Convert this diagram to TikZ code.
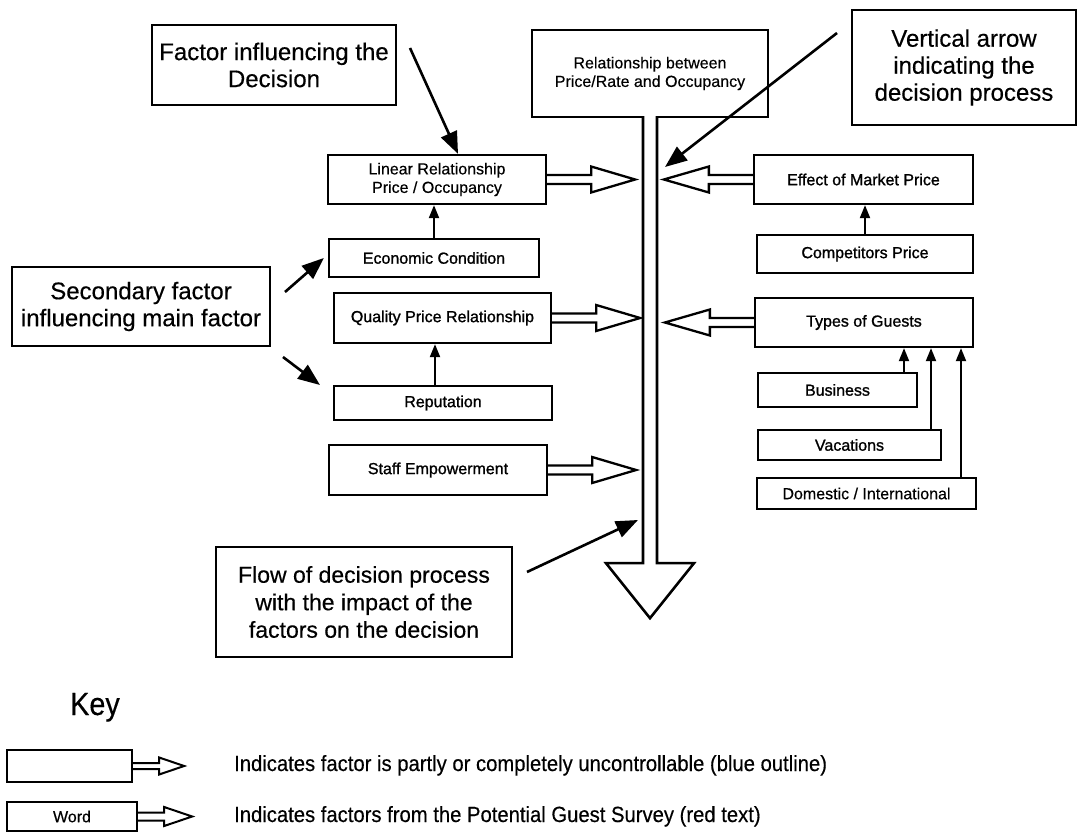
\documentclass[tikz,border=0pt]{standalone}
\usepackage{fontspec}
\setmainfont{Liberation Sans}
\newfontfamily\plainsans[FakeBold=0.4]{Liberation Sans}
\newfontfamily\heavysans[FakeBold=1.2]{Liberation Sans}
\usetikzlibrary{arrows.meta,calc}

% hollow block arrows leaving a box side: right-pointing and left-pointing
\newcommand\flowright[1]{%
  \draw[hollow] ($(#1)+(0,-4.5)$) -- ++(44,0) -- ++(0,-8.5) -- ++(44,13)
    -- ++(-44,13) -- ++(0,-8.5) -- ++(-44,0);}
\newcommand\flowleft[1]{%
  \draw[hollow] ($(#1)+(0,-4.5)$) -- ++(-44,0) -- ++(0,-8.5) -- ++(-45,13)
    -- ++(45,13) -- ++(0,-8.5) -- ++(44,0);}

\begin{document}
\begin{tikzpicture}[x=1pt,y=-1pt,
  box/.style={draw,line width=2.3pt,inner sep=0pt,align=center,
    font=\plainsans\fontsize{16}{18.5}\selectfont},
  dark/.style={font=\heavysans\fontsize{16}{18.5}\selectfont},
  callout/.style={box,font=\plainsans\fontsize{24}{27}\selectfont},
  hollow/.style={draw,line width=2.3pt,line join=miter},
  pointer/.style={line width=2.6pt,-{Triangle[length=22pt,width=17pt]}},
  feed/.style={line width=2pt,-{Triangle[length=13pt,width=10pt]}},
  keytext/.style={anchor=base west,inner sep=0pt,font=\plainsans\fontsize{22}{26}\selectfont},
]
\useasboundingbox (0,0) rectangle (1079,834);

% central decision box
\node[box,minimum width=236pt,minimum height=87pt] (mainbox) at (650,73.5)
  {Relationship between\\Price/Rate and Occupancy};

% factors on the left
\node[box,minimum width=218pt,minimum height=49pt] (lin) at (437,179.5)
  {Linear Relationship\\Price / Occupancy};
\node[box,dark,minimum width=210pt,minimum height=38pt] (eco) at (434,258)
  {Economic Condition};
\node[box,dark,minimum width=217pt,minimum height=50pt] (qual) at (442.5,318)
  {Quality Price Relationship};
\node[box,dark,minimum width=218pt,minimum height=34pt] (rep) at (443,403)
  {Reputation};
\node[box,dark,minimum width=218pt,minimum height=50pt] (staff) at (438,470)
  {Staff Empowerment};

% factors on the right
\node[box,dark,minimum width=219pt,minimum height=49pt] (eff) at (863.5,179.5)
  {Effect of Market Price};
\node[box,dark,minimum width=216pt,minimum height=38pt] (comp) at (865,254)
  {Competitors Price};
\node[box,dark,minimum width=218pt,minimum height=49pt] (types) at (864,322.5)
  {Types of Guests};
\node[box,dark,minimum width=159pt,minimum height=34pt] (bus) at (837.5,390)
  {Business};
\node[box,dark,minimum width=183pt,minimum height=30pt] (vac) at (849.5,445)
  {Vacations};
\node[box,minimum width=219pt,minimum height=31pt] (dom) at (866.5,493.5)
  {Domestic / International};

% explanatory callouts
\node[callout,minimum width=244pt,minimum height=80pt] (factor) at (274,65)
  {Factor influencing the\\Decision};
\node[callout,minimum width=224pt,minimum height=115pt] (vert) at (964,67.5)
  {Vertical arrow\\indicating the\\decision process};
\node[callout,minimum width=258pt,minimum height=79pt] (second) at (141,306.5)
  {Secondary factor\\influencing main factor};
\node[callout,minimum width=296pt,minimum height=110pt,
  font=\plainsans\fontsize{23}{27.5}\selectfont] (flow) at (364,602)
  {Flow of decision process\\with the impact of the\\factors on the decision};

% the vertical decision arrow hanging from the central box
\path[fill=white,draw,line width=2.6pt,line join=miter]
  ($(mainbox.south)+(-7,-2)$) -- ++(0,447) -- ++(-37,0) -- ++(44,55)
  -- ++(44,-55) -- ++(-37,0) -- ++(0,-447);

% hollow arrows into the decision flow
\flowright{lin.east}
\flowright{qual.east}
\flowright{staff.east}
\flowleft{eff.west}
\flowleft{types.west}

% secondary factors feeding main factors
\draw[feed] (eco.north) -- (eco.north |- lin.south);
\draw[feed] ([xshift=-8pt]rep.north) -- ([xshift=-8pt]rep.north |- qual.south);
\draw[feed] (comp.north) -- (comp.north |- eff.south);
\draw[feed] ([xshift=66.5pt]bus.north) -- ([xshift=66.5pt]bus.north |- types.south);
\draw[feed] ([xshift=81.5pt]vac.north) -- ([xshift=81.5pt]vac.north |- types.south);
\draw[feed] ([xshift=94.5pt]dom.north) -- ([xshift=94.5pt]dom.north |- types.south);

% pointers from the callouts
\coordinate (factortail) at (410,48);
\coordinate (verttail) at (837,33);
\coordinate (verttip) at (665,167);
\coordinate (secondtailA) at (285,292);
\coordinate (secondtailB) at (283,357);
\coordinate (secondtipB) at (320,385);
\coordinate (flowtail) at (527,572);
\coordinate (flowtip) at (638,520);
\draw[pointer] (factortail) -- ([xshift=21pt]lin.north);
\draw[pointer] (verttail) -- (verttip);
\draw[pointer] (secondtailA) -- ([xshift=-4pt]eco.west);
\draw[pointer] (secondtailB) -- (secondtipB);
\draw[pointer] (flowtail) -- (flowtip);

% key
\node[anchor=base,inner sep=0pt,font=\plainsans\fontsize{32}{36}\selectfont]
  (keylabel) at (95,715) {\scalebox{0.9}[1]{Key}};
\node[box,minimum width=125pt,minimum height=32pt] (keyA) at (69.5,766) {};
\node[box,minimum width=130pt,minimum height=29pt] (keyB) at (72,816.5) {Word};
\draw[line width=2pt,line join=miter] ($(keyA.east)+(0,-3)$) -- ++(26,0) -- ++(0,-5.5)
  -- ++(25,8.5) -- ++(-25,8.5) -- ++(0,-5.5) -- ++(-26,0);
\draw[line width=2pt,line join=miter] ($(keyB.east)+(0,-4)$) -- ++(26,0) -- ++(0,-5.5)
  -- ++(28,9.5) -- ++(-28,9.5) -- ++(0,-5.5) -- ++(-26,0);
\node[keytext] (keyAtext) at (234,771)
  {\scalebox{0.92}[1]{Indicates factor is partly or completely uncontrollable (blue outline)}};
\node[keytext] (keyBtext) at (234,822)
  {\scalebox{0.92}[1]{Indicates factors from the Potential Guest Survey (red text)}};
\end{tikzpicture}
\end{document}
